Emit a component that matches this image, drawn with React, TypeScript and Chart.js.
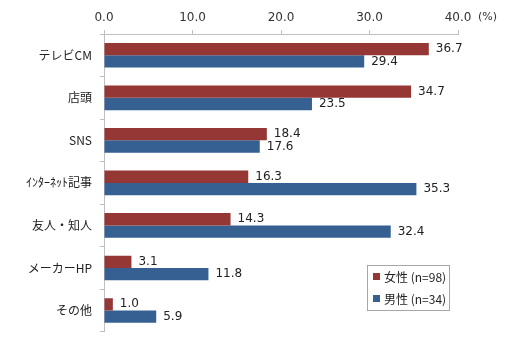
import React, { useEffect, useRef } from "react";
import { Chart, registerables } from "chart.js";

Chart.register(...registerables);

const categories = ["テレビCM", "店頭", "SNS", "ｲﾝﾀｰﾈｯﾄ記事", "友人・知人", "メーカーHP", "その他"];
const femaleValues = [36.7, 34.7, 18.4, 16.3, 14.3, 3.1, 1.0];
const maleValues = [29.4, 23.5, 17.6, 35.3, 32.4, 11.8, 5.9];
const seriesNames = ["女性 (n=98)", "男性 (n=34)"];
const seriesColors = ["#953735", "#376092"];
const unitLabel = "(%)";

const FONT = "'DejaVu Sans', 'Noto Sans CJK JP', sans-serif";
const JFONT = "'Noto Sans CJK JP', 'DejaVu Sans', sans-serif";

const extrasPlugin = {
  id: "extras",
  afterDatasetsDraw(chart: any) {
    const ctx = chart.ctx;
    ctx.save();
    ctx.font = `12px ${FONT}`;
    ctx.fillStyle = "#222";
    ctx.textAlign = "left";
    ctx.textBaseline = "middle";
    chart.data.datasets.forEach((ds: any, i: number) => {
      const meta = chart.getDatasetMeta(i);
      meta.data.forEach((bar: any, j: number) => {
        ctx.fillText(Number(ds.data[j]).toFixed(1), bar.x + 7, bar.y);
      });
    });
    // unit label
    const xs = chart.scales.x;
    ctx.textAlign = "left";
    ctx.font = `11px ${FONT}`;
    ctx.fillStyle = "#333";
    ctx.fillText(unitLabel, xs.right + 20, 17);
    // legend box
    const lx = 367, ly = 265, lw = 82, lh = 45;
    ctx.strokeStyle = "#a6a6a6";
    ctx.lineWidth = 1;
    ctx.strokeRect(lx + 0.5, ly + 0.5, lw, lh);
    ctx.font = `12px ${JFONT}`;
    seriesNames.forEach((name, i) => {
      const cy = ly + 11 + i * 22;
      ctx.fillStyle = seriesColors[i];
      ctx.fillRect(lx + 6, cy - 3, 7, 7);
      ctx.fillStyle = "#222";
      ctx.fillText(name, lx + 17, cy + 1);
    });
    ctx.restore();
  },
};

export default function App() {
  const ref = useRef<HTMLCanvasElement>(null);
  useEffect(() => {
    const chart = new Chart(ref.current!, {
      type: "bar",
      data: {
        labels: categories,
        datasets: [
          { label: seriesNames[0], data: femaleValues, backgroundColor: seriesColors[0], categoryPercentage: 0.58, barPercentage: 1.0 },
          { label: seriesNames[1], data: maleValues, backgroundColor: seriesColors[1], categoryPercentage: 0.58, barPercentage: 1.0 },
        ],
      },
      options: {
        indexAxis: "y",
        animation: false,
        responsive: false,
        maintainAspectRatio: false,
        layout: { padding: { left: 0, right: 55, top: 0, bottom: 14 } },
        plugins: { legend: { display: false }, tooltip: { enabled: false } },
        scales: {
          x: {
            position: "top",
            min: 0,
            max: 40,
            ticks: {
              stepSize: 10,
              callback: (v: any) => Number(v).toFixed(1),
              font: { family: FONT, size: 12 },
              color: "#333",
              padding: 5,
              maxRotation: 0,
            },
            grid: { drawOnChartArea: false, tickLength: 4, color: "#bfbfbf" },
            border: { color: "#bfbfbf" },
            afterFit: (s: any) => { s.height = 34; },
          },
          y: {
            ticks: {
              font: { family: JFONT, size: 12 },
              color: "#222",
              padding: 8,
            },
            grid: { drawOnChartArea: false, tickLength: 4, offset: true, color: "#bfbfbf" },
            border: { color: "#bfbfbf" },
            afterFit: (s: any) => { s.width = 104; },
          },
        },
      },
      plugins: [extrasPlugin],
    });
    return () => chart.destroy();
  }, []);
  return (
    <div style={{ position: "fixed", left: 0, top: 0, width: 513, height: 347, background: "#fff" }}>
      <canvas ref={ref} width={513} height={347} style={{ width: 513, height: 347 }} />
    </div>
  );
}
